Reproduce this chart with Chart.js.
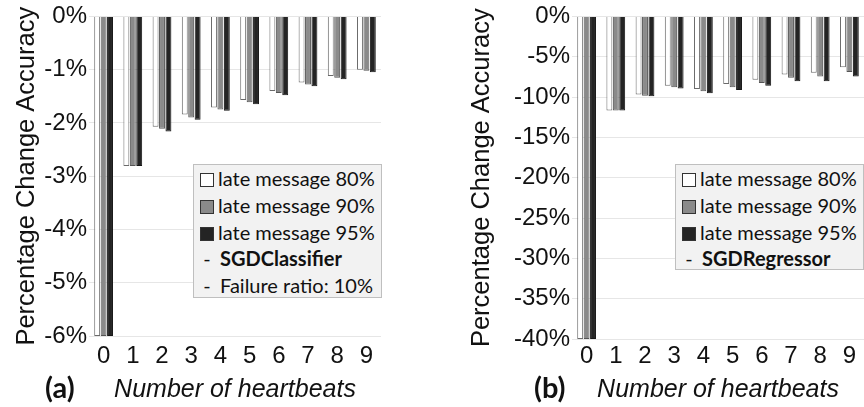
<!DOCTYPE html>
<html>
<head>
<meta charset="utf-8">
<script src="https://cdn.jsdelivr.net/npm/chart.js@4.4.1/dist/chart.umd.min.js"></script>
<style>
	body { margin: 0; background: #fff; width: 864px; height: 407px; overflow: hidden; position: relative; }
	canvas { position: absolute; top: 0; }
	#chartA { left: 0; }
	#chartB { left: 455px; }
	.legend { position: absolute; box-sizing: border-box; background: #f2f2f2; border: 1px solid #bfbfbf;
		font-family: Lato, "Open Sans", sans-serif; font-size: 20px; color: #111; padding-left: 6px; }
	.legend .row { height: 26.8px; line-height: 26.8px; white-space: nowrap; }
	.legend .sw { display: inline-block; box-sizing: border-box; width: 14px; height: 14px; border: 1px solid #333;
		margin-right: 4px; vertical-align: -1px; }
	.legend .dash { display: inline-block; width: 14px; text-align: center; margin-right: 6px; }
	.panel { position: absolute; top: 369px; font-family: Lato, sans-serif; font-weight: bold; font-size: 29px; color: #111; }
</style>
</head>
<body>
<canvas id="chartA" width="432" height="407"></canvas>
<canvas id="chartB" width="409" height="407"></canvas>
<div class="legend" id="legendA" style="left:193px;top:164px;width:189px;height:134px"></div>
<div class="legend" id="legendB" style="left:675px;top:164px;width:189px;height:106px"></div>
<div class="panel" style="left:45px">(a)</div>
<div class="panel" style="left:534px">(b)</div>
<script>
	const heartbeats = ['0', '1', '2', '3', '4', '5', '6', '7', '8', '9'];
	const seriesNames = ['late message 80%', 'late message 90%', 'late message 95%'];

	// (a) SGDClassifier, failure ratio 10%
	const clfLate80 = [-6, -2.81, -2.07, -1.84, -1.71, -1.57, -1.40, -1.24, -1.12, -1.00];
	const clfLate90 = [-6, -2.81, -2.11, -1.90, -1.75, -1.61, -1.44, -1.28, -1.15, -1.02];
	const clfLate95 = [-6, -2.81, -2.16, -1.94, -1.77, -1.65, -1.48, -1.31, -1.18, -1.05];
	const clfTicks = [0, -1, -2, -3, -4, -5, -6];
	const clfNotes = ['<b>SGDClassifier</b>', 'Failure ratio: 10%'];

	// (b) SGDRegressor
	const regLate80 = [-40, -11.66, -9.69, -8.59, -9.00, -8.38, -7.85, -7.20, -7.00, -6.30];
	const regLate90 = [-40, -11.66, -9.85, -8.79, -9.28, -8.79, -8.26, -7.60, -7.45, -6.90];
	const regLate95 = [-40, -11.66, -9.90, -8.95, -9.52, -9.12, -8.60, -8.05, -8.05, -7.45];
	const regTicks = [0, -5, -10, -15, -20, -25, -30, -35, -40];
	const regNotes = ['<b>SGDRegressor</b>'];

	const fills = ['#ffffff', '#8a8a8a', '#242424'];
	const borders = ['#6a6a6a', '#555555', '#161616'];

	const make_chart = (id, series, ticks, yWidth, xHeight, tickPad, padRight) => {
		const ctx = document.getElementById(id).getContext('2d');
		return new Chart(ctx, {
			type: 'bar',
			data: {
				labels: heartbeats,
				datasets: series.map((d, i) => ({
					label: seriesNames[i],
					data: d,
					backgroundColor: fills[i],
					borderColor: borders[i],
					borderWidth: 1,
					categoryPercentage: 0.66,
					barPercentage: 0.92
				}))
			},
			options: {
				responsive: false,
				animation: false,
				layout: { autoPadding: false, padding: { left: 3, right: padRight, top: 12, bottom: 0 } },
				plugins: { legend: { display: false }, tooltip: { enabled: false } },
				scales: {
					x: {
						grid: { display: false, drawTicks: false },
						border: { display: false },
						ticks: { color: '#111', padding: tickPad, font: { family: 'Liberation Sans', size: 24 } },
						title: { display: true, text: 'Number of heartbeats', color: '#111', padding: 2,
							font: { family: 'Liberation Sans', size: 25, style: 'italic' } },
						afterFit: (scale) => { scale.height = xHeight; }
					},
					y: {
						min: Math.min(...ticks),
						max: Math.max(...ticks),
						grid: { color: '#e6e6e6', drawTicks: false },
						border: { display: false },
						ticks: { stepSize: ticks[0] - ticks[1], color: '#111', padding: 2,
							font: { family: 'Liberation Sans', size: 24 }, callback: (v) => v + '%' },
						title: { display: true, text: 'Percentage Change Accuracy', color: '#111', padding: 9,
							font: { family: 'Liberation Sans', size: 25.5 } },
						afterFit: (scale) => { scale.width = yWidth; }
					}
				}
			}
		});
	};

	make_chart('chartA', [clfLate80, clfLate90, clfLate95], clfTicks, 86, 71, 6, 51);
	make_chart('chartB', [regLate80, regLate90, regLate95], regTicks, 114, 68, 3, 0);

	const fill_legend = (id, notes) => {
		const el = document.getElementById(id);
		let html = '';
		seriesNames.forEach((name, i) => {
			html += '<div class="row"><span class="sw" style="background:' + fills[i] + '"></span>' + name + '</div>';
		});
		notes.forEach((n) => {
			html += '<div class="row"><span class="dash">-</span>' + n + '</div>';
		});
		el.innerHTML = html;
	};
	fill_legend('legendA', clfNotes);
	fill_legend('legendB', regNotes);
</script>
</body>
</html>
